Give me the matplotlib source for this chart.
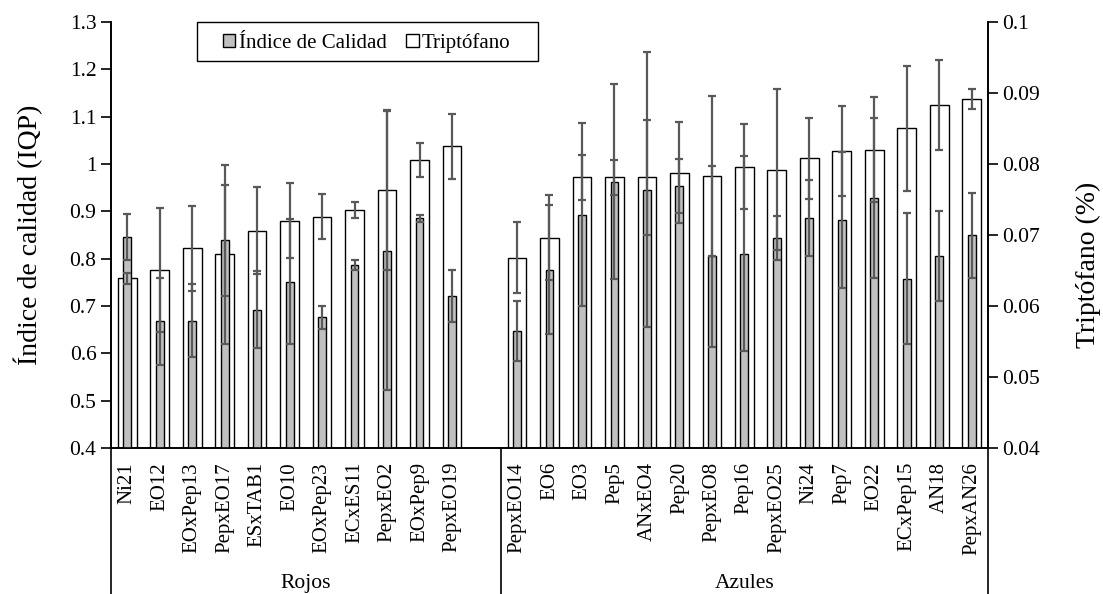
import numpy as np
import matplotlib
matplotlib.use("Agg")
import matplotlib.pyplot as plt
import matplotlib.transforms as mtransforms
from matplotlib.patches import Patch, Rectangle
from matplotlib.lines import Line2D

plt.rcParams['font.family'] = ['Liberation Serif', 'DejaVu Serif']

# Datos por genotipo
rojos = ['Ni21', 'EO12', 'EOxPep13', 'PepxEO17', 'ESxTAB1', 'EO10', 'EOxPep23',
         'ECxES11', 'PepxEO2', 'EOxPep9', 'PepxEO19']
azules = ['PepxEO14', 'EO6', 'EO3', 'Pep5', 'ANxEO4', 'Pep20', 'PepxEO8', 'Pep16',
          'PepxEO25', 'Ni24', 'Pep7', 'EO22', 'ECxPep15', 'AN18', 'PepxAN26']

# Índice de calidad (IQP) y su desviación
iqp = [0.846, 0.668, 0.669, 0.839, 0.692, 0.751, 0.676, 0.786, 0.817, 0.885, 0.721,
       0.647, 0.777, 0.893, 0.962, 0.946, 0.953, 0.805, 0.810, 0.844, 0.886, 0.882,
       0.928, 0.758, 0.805, 0.849]
iqp_err = [0.048, 0.092, 0.077, 0.117, 0.081, 0.132, 0.025, 0.011, 0.295, 0.008, 0.054,
           0.063, 0.137, 0.194, 0.206, 0.290, 0.057, 0.191, 0.206, 0.047, 0.080, 0.143,
           0.169, 0.139, 0.095, 0.089]

# Triptófano (%) y su desviación
trp = [0.0639, 0.0651, 0.0681, 0.0673, 0.0706, 0.0720, 0.0726, 0.0735, 0.0763, 0.0805,
       0.0825, 0.0668, 0.0696, 0.0781, 0.0781, 0.0781, 0.0788, 0.0783, 0.0796, 0.0792,
       0.0808, 0.0818, 0.0820, 0.0850, 0.0883, 0.0892]
trp_err = [0.0008, 0.0087, 0.0060, 0.0126, 0.0061, 0.0053, 0.0032, 0.0011, 0.0113, 0.0024,
           0.0046, 0.0050, 0.0060, 0.0032, 0.0024, 0.0081, 0.0071, 0.0113, 0.0060, 0.0113,
           0.0057, 0.0063, 0.0074, 0.0088, 0.0063, 0.0014]

# posiciones: un hueco entre Rojos y Azules
x = np.array(list(range(len(rojos))) + list(range(len(rojos) + 1, len(rojos) + 1 + len(azules))))
labels = rojos + azules

fig = plt.figure(figsize=(11.03, 5.94), dpi=100)
ax = fig.add_axes([0.1006, 0.2458, 0.7951, 0.7172])
ax2 = ax.twinx()

# barras de triptófano detrás (eje secundario)
ax2.bar(x, trp, width=0.575, color='white', edgecolor='black', linewidth=1.0, zorder=1)
ax2.set_ylim(0.04, 0.1)

# el eje principal va encima para que las barras grises se vean
ax.set_zorder(ax2.get_zorder() + 1)
ax.patch.set_visible(False)
ax.bar(x, iqp, width=0.24, color='#c0c0c0', edgecolor='black', linewidth=1.0, zorder=2)

ecol = '#595959'
ax.errorbar(x, trp, yerr=trp_err, fmt='none', ecolor=ecol, elinewidth=1.6,
            capsize=3, capthick=1.6, transform=ax2.transData, zorder=3)
ax.errorbar(x, iqp, yerr=iqp_err, fmt='none', ecolor=ecol, elinewidth=1.6,
            capsize=3, capthick=1.6, zorder=3)

ax.set_xlim(-0.5, x[-1] + 0.5)
ax.set_ylim(0.4, 1.3)
ax2.set_ylim(0.04, 0.1)

yt = np.round(np.arange(0.4, 1.31, 0.1), 1)
ax.set_yticks(yt)
ax.set_yticklabels([f'{v:g}' for v in yt])
yt2 = np.round(np.arange(0.04, 0.101, 0.01), 2)
ax2.set_yticks(yt2)
ax2.set_yticklabels([f'{v:g}' for v in yt2])

ax.set_xticks(x)
ax.set_xticklabels(labels, rotation=90, fontsize=15)
ax.tick_params(axis='x', length=0, pad=10)
ax.tick_params(axis='y', labelsize=15.5, length=7, width=1.2, direction='out')
ax2.tick_params(axis='y', labelsize=15.5, length=7, width=1.2, direction='out')

for a in (ax, ax2):
    a.spines['top'].set_visible(False)
    for s in ('left', 'right', 'bottom'):
        a.spines[s].set_linewidth(1.2)

ax.set_ylabel('Índice de calidad (IQP)', fontsize=20, labelpad=19)
ax2.set_ylabel('Triptófano (%)', fontsize=20)
ax2.yaxis.set_label_coords(1.10, 0.43)

# líneas del eje de categorías agrupadas, hasta el borde inferior
sep = len(rojos) + 0.5
trans = mtransforms.blended_transform_factory(ax.transData, fig.transFigure)
y_axis = 0.2458
for xv in (-0.5, sep, x[-1] + 0.5):
    ax.add_line(Line2D([xv, xv], [y_axis, 0], transform=trans, color='black',
                       linewidth=1.2, clip_on=False))
ax.text((-0.5 + sep) / 2, 0.0185, 'Rojos', transform=trans, ha='center', va='center',
        fontsize=15.5)
ax.text((sep + x[-1] + 0.5) / 2, 0.0185, 'Azules', transform=trans, ha='center',
        va='center', fontsize=15.5)

# leyenda con marco propio
ax.add_patch(Rectangle((0.098, 0.9085), 0.3889, 0.0915, transform=ax.transAxes,
                       facecolor='white', edgecolor='black', linewidth=1.0,
                       zorder=4, clip_on=False))
handles = [Patch(facecolor='#c0c0c0', edgecolor='black', label='Índice de Calidad'),
           Patch(facecolor='white', edgecolor='black', label='Triptófano')]
leg = ax.legend(handles=handles, loc='upper left', bbox_to_anchor=(0.1277, 0.974), ncol=2,
                fontsize=15, frameon=False, handlelength=0.6, handleheight=0.6,
                handletextpad=0.15, columnspacing=0.95, borderpad=0, borderaxespad=0)
leg.set_zorder(5)

fig.savefig('out.png', dpi=100)
